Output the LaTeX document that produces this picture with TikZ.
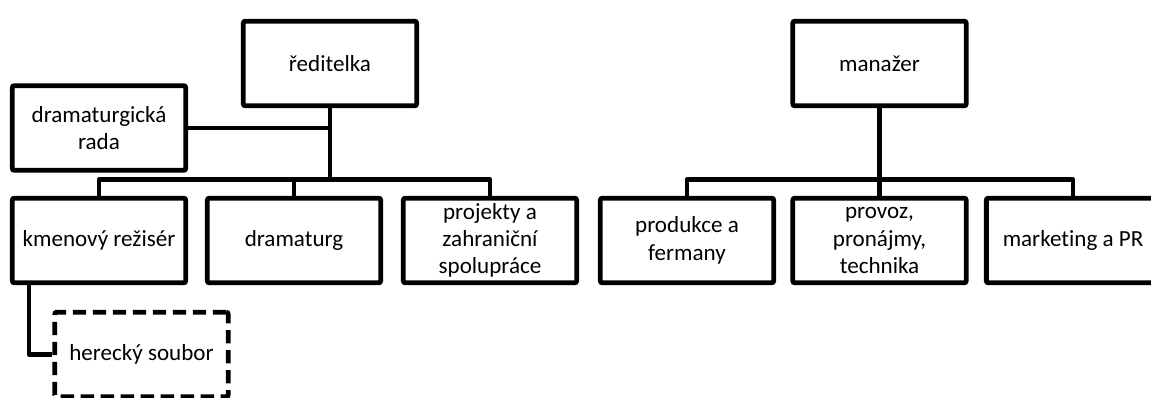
\documentclass[tikz,border=0pt]{standalone}
\usepackage{fontspec}
\setmainfont{Carlito}[Ligatures=NoCommon]
\usetikzlibrary{positioning}

\begin{document}
\begin{tikzpicture}[x=0.75pt,y=-0.75pt]

          \tikzstyle{unitBox} = [draw,line width=3.6pt,rounded corners=1.5pt,
            minimum width=130pt,minimum height=63.5pt,align=center,inner sep=0pt,
            font=\fontsize{17.3}{20.5}\selectfont];
          \tikzstyle{guestBox} = [unitBox,dash pattern=on 10pt off 5pt];
          \tikzstyle{link} = [line width=3.2pt,line join=round];

          \useasboundingbox (0,0) rectangle (1151,397);

          % divadlo
          \node[unitBox] (red) at (330,63.5) {ředitelka};
          \node[unitBox] (rada) at (99,128) {dramaturgická\\rada};
          \node[unitBox] (kmen) at (99,240.5) {kmenový režisér};
          \node[unitBox] (drama) at (294,240.5) {dramaturg};
          \node[unitBox] (proj) at (490,240.5) {projekty a\\zahraniční\\spolupráce};
          \node[guestBox] (herec) at (141.5,354.5) {herecký soubor};

          % provoz
          \node[unitBox] (man) at (879.5,63.5) {manažer};
          \node[unitBox] (prod) at (687,240.5) {produkce a\\fermany};
          \node[unitBox] (prov) at (879.5,240.5) {provoz,\\pronájmy,\\technika};
          \node[unitBox] (mark) at (1073,240.5) {marketing a PR};

          \coordinate (bus) at (0,179.5);
          \coordinate (hook) at (29,0);

          \draw[link] (red.south) -- (red.south |- bus);
          \draw[link] (rada.east) -- (rada.east -| red);
          \draw[link] (kmen.north) |- (bus -| red) -| (proj.north);
          \draw[link] (drama.north) -- (drama.north |- bus);
          \draw[link] (kmen.south -| hook) |- (herec.west);

          \draw[link] (man.south) -- (prov.north);
          \draw[link] (prod.north) |- (bus -| man) -| (mark.north);
        \end{tikzpicture}
\end{document}
